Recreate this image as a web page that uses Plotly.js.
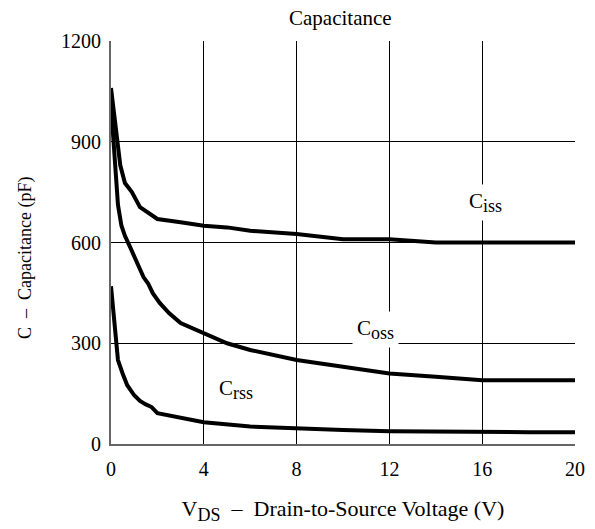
<!DOCTYPE html>
<html>
<head>
<meta charset="utf-8">
<script src="https://cdn.plot.ly/plotly-3.0.1.min.js"></script>
<style>html,body{margin:0;padding:0;background:#fff;}#chart{width:595px;height:529px;}</style>
</head>
<body>
<div id="chart"></div>
<script>
var ciss_x = [0, 0.1, 0.25, 0.4, 0.6, 0.9, 1.25, 1.6, 2.0, 3, 4, 5, 6, 8, 10, 12, 14, 16, 18, 20];
var ciss_y = [1060, 1000, 905, 830, 777, 750, 705, 688, 670, 660, 650, 645, 635, 625, 610, 610, 600, 600, 600, 600];
var coss_x = [0, 0.1, 0.2, 0.3, 0.45, 0.6, 0.8, 1.1, 1.4, 1.6, 1.8, 2.1, 2.5, 3, 4, 5, 6, 8, 10, 12, 14, 16, 18, 20];
var coss_y = [1010, 920, 830, 712, 650, 620, 590, 540, 497, 478, 449, 420, 390, 360, 330, 300, 280, 250, 230, 210, 200, 190, 190, 190];
var crss_x = [0, 0.1, 0.2, 0.3, 0.5, 0.7, 1.0, 1.25, 1.5, 1.75, 2.0, 3, 4, 6, 8, 10, 12, 14, 16, 18, 20];
var crss_y = [470, 400, 310, 250, 210, 175, 145, 128, 118, 110, 92, 80, 65, 52, 46, 42, 38, 36, 35, 35, 35];
var xTicks = [0, 4, 8, 12, 16, 20];
var yTicks = [0, 300, 600, 900, 1200];
var labelMain = ['C', 'C', 'C'];
var labelSub = ['iss', 'oss', 'rss'];
var labelX = [16.15, 11.4, 5.4];
var labelY = [720, 340, 161];

var lineStyle = {color: '#000', width: 4};
var traces = [
  {x: ciss_x, y: ciss_y, mode: 'lines', line: lineStyle, hoverinfo: 'skip'},
  {x: coss_x, y: coss_y, mode: 'lines', line: lineStyle, hoverinfo: 'skip'},
  {x: crss_x, y: crss_y, mode: 'lines', line: lineStyle, hoverinfo: 'skip'}
];

var fam = 'Liberation Serif, Times New Roman, serif';
function subText(main, sub, size) {
  return main + '<sub><span style="font-size:' + size + 'px">' + sub + '</span></sub>';
}

var annots = labelMain.map(function (m, i) {
  return {x: labelX[i], y: labelY[i], xref: 'x', yref: 'y', text: subText(m, labelSub[i], 18), showarrow: false,
    bgcolor: '#fff', borderpad: 4, font: {family: fam, size: 21, color: '#000'}};
});
annots.push({
  xref: 'paper', yref: 'paper', x: (25 - 111) / 464, y: (444 - 258) / 403,
  xanchor: 'center', yanchor: 'middle', textangle: -90, showarrow: false,
  text: 'C  \u2013  Capacitance (pF)', font: {family: fam, size: 18, color: '#000'}
});

var layout = {
  width: 595, height: 529,
  margin: {l: 111, r: 20, t: 41, b: 85},
  paper_bgcolor: '#fff', plot_bgcolor: '#fff',
  showlegend: false,
  font: {family: fam, color: '#000', size: 20},
  title: {text: 'Capacitance', x: 0.572, xanchor: 'center', y: 0.966, yanchor: 'middle', font: {family: fam, size: 21, color: '#000'}},
  xaxis: {
    range: [0, 20], tickvals: xTicks, ticktext: xTicks.map(String),
    showgrid: true, gridcolor: '#000', gridwidth: 1,
    zeroline: false, showline: true, linecolor: '#666', linewidth: 2,
    ticks: '', ticklen: 0, ticklabelstandoff: 6,
    tickfont: {family: fam, size: 20, color: '#000'},
    title: {text: subText('V', 'DS', 18) + '  \u2013  Drain-to-Source Voltage (V)', standoff: 22, font: {family: fam, size: 22, color: '#000'}},
    fixedrange: true
  },
  yaxis: {
    range: [0, 1200], tickvals: yTicks, ticktext: yTicks.map(String),
    showgrid: true, gridcolor: '#000', gridwidth: 1,
    zeroline: false, showline: true, linecolor: '#666', linewidth: 2,
    ticks: '', ticklen: 0, ticklabelstandoff: 4,
    tickfont: {family: fam, size: 20, color: '#000'},
    fixedrange: true
  },
  annotations: annots
};

Plotly.newPlot('chart', traces, layout, {displayModeBar: false, staticPlot: true});
</script>
</body>
</html>
